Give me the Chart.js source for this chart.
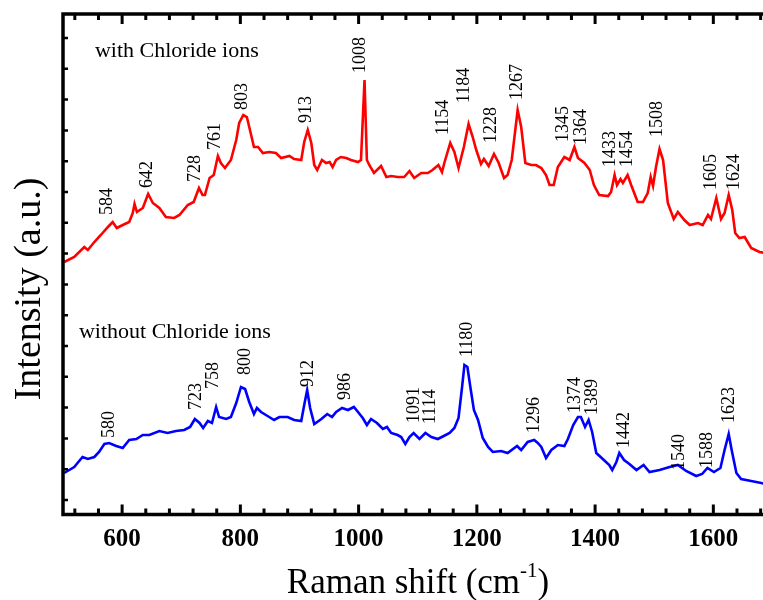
<!DOCTYPE html>
<html lang="en">
<head>
    <meta charset="UTF-8">
    <title>Raman spectra</title>
    <script src="https://cdn.jsdelivr.net/npm/chart.js"></script>
    <style>
        html, body { margin: 0; padding: 0; background: #fff; overflow: hidden; }
    </style>
</head>
<body>
    <canvas id="ramanChart" width="763" height="600"></canvas>
    <script>
    // spectrum with chloride ions (red)
    const redShift = [
        502, 519, 536, 542, 553, 564, 576, 584, 591, 601,
        612, 618, 621, 625, 635, 644, 652, 663, 674, 688,
        697, 711, 721, 730, 736, 740, 748, 755, 762, 767,
        774, 784, 793, 798, 805, 811, 817, 823, 830, 838,
        849, 860, 869, 883, 891, 903, 908, 914, 920, 925,
        930, 938, 945, 951, 956, 962, 970, 979, 987, 999,
        1004, 1010, 1014, 1018, 1026, 1038, 1047, 1055, 1066, 1077,
        1086, 1094, 1106, 1117, 1125, 1135, 1141, 1145, 1155, 1162,
        1169, 1178, 1186, 1193, 1199, 1207, 1212, 1220, 1229, 1237,
        1246, 1252, 1259, 1269, 1275, 1282, 1292, 1300, 1309, 1317,
        1323, 1330, 1337, 1348, 1357, 1365, 1371, 1382, 1391, 1398,
        1407, 1422, 1427, 1433, 1437, 1443, 1447, 1455, 1461, 1472,
        1481, 1489, 1494, 1498, 1503, 1509, 1515, 1523, 1533, 1540,
        1551, 1560, 1574, 1582, 1591, 1596, 1605, 1613, 1619, 1626,
        1632, 1637, 1644, 1653, 1664, 1678, 1687
    ];
    const redIntensity = [
        238, 243, 253, 250, 258, 265, 273, 278, 272, 275,
        278, 287, 296, 288, 292, 306, 297, 292, 283, 282,
        285, 295, 298, 312, 305, 305, 322, 325, 344, 337,
        332, 340, 360, 377, 385, 383, 368, 353, 353, 347,
        348, 347, 342, 344, 341, 340, 358, 370, 357, 335,
        330, 340, 337, 338, 333, 340, 343, 342, 340, 338,
        340, 420, 340, 335, 327, 334, 323, 324, 323, 323,
        329, 322, 327, 327, 330, 335, 328, 337, 357, 348,
        332, 353, 376, 363, 350, 336, 341, 334, 346, 337,
        322, 325, 340, 390, 373, 337, 335, 335, 332, 325,
        315, 315, 333, 343, 340, 353, 342, 337, 330, 315,
        305, 304, 308, 325, 315, 321, 317, 325, 315, 298,
        298, 307, 323, 314, 333, 351, 340, 297, 281, 288,
        280, 275, 277, 275, 285, 281, 302, 281, 287, 305,
        290, 267, 262, 263, 252, 248, 247
    ];

    // spectrum without chloride ions (blue)
    const blueShift = [
        502, 519, 533, 542, 553, 561, 570, 578, 590, 601,
        612, 624, 635, 646, 663, 677, 691, 705, 715, 723,
        731, 737, 745, 752, 759, 764, 776, 784, 793, 801,
        808, 815, 823, 828, 835, 846, 857, 866, 880, 891,
        903, 908, 913, 918, 925, 937, 947, 955, 962, 972,
        982, 992, 999, 1007, 1014, 1021, 1031, 1041, 1048, 1055,
        1066, 1072, 1079, 1086, 1093, 1103, 1113, 1123, 1134, 1144,
        1154, 1162, 1169, 1175, 1179, 1184, 1189, 1195, 1202, 1210,
        1219, 1227, 1241, 1252, 1268, 1275, 1286, 1297, 1303, 1309,
        1317, 1326, 1337, 1348, 1354, 1363, 1371, 1376, 1383, 1389,
        1395, 1402, 1413, 1424, 1429, 1436, 1441, 1449, 1458, 1470,
        1482, 1492, 1509, 1526, 1540, 1554, 1571, 1581, 1590, 1601,
        1612, 1619, 1626, 1631, 1639, 1647, 1664, 1681, 1687
    ];
    const blueIntensity = [
        27, 33, 43, 41, 43, 48, 56, 57, 54, 52,
        60, 61, 65, 65, 69, 67, 69, 70, 73, 81,
        77, 72, 79, 77, 93, 83, 81, 83, 97, 113,
        111, 98, 86, 92, 88, 84, 80, 83, 83, 80,
        79, 95, 110, 92, 76, 81, 86, 83, 88, 92,
        90, 93, 88, 82, 75, 81, 77, 71, 73, 67,
        65, 63, 56, 63, 67, 61, 67, 63, 61, 64,
        67, 72, 82, 113, 135, 133, 113, 90, 80, 62,
        53, 48, 49, 47, 54, 50, 58, 60, 57, 53,
        42, 50, 55, 54, 61, 75, 83, 83, 73, 80,
        68, 47, 41, 35, 30, 38, 47, 40, 36, 30,
        35, 28, 30, 33, 35, 29, 24, 26, 32, 28,
        32, 50, 66, 50, 27, 21, 19, 17, 16
    ];

    // peak labels: text, anchor shift, anchor intensity (bottom of the rotated text)
    const redPeakText = ['584', '642', '728', '761', '803', '913', '1008', '1154', '1184',
        '1228', '1267', '1345', '1364', '1433', '1454', '1508', '1605', '1624'];
    const redPeakX = [574, 640, 722, 756, 801, 909, 1001, 1142, 1177,
        1223, 1266, 1345, 1375, 1424, 1453, 1503, 1594, 1633];
    const redPeakY = [285, 312, 318, 350, 390, 377, 427, 365, 397,
        357, 400, 358, 355, 333, 333, 363, 310, 310];

    const bluePeakText = ['580', '723', '758', '800', '912', '986', '1091', '1114',
        '1180', '1296', '1374', '1389', '1442', '1540', '1588', '1623'];
    const bluePeakX = [577, 723, 753, 806, 914, 976, 1092, 1120,
        1182, 1295, 1364, 1393, 1447, 1540, 1588, 1625];
    const bluePeakY = [62, 90, 111, 125, 113, 100, 77, 76,
        143, 67, 87, 85, 52, 30, 32, 77];

    const seriesNames = ['with Chloride ions', 'without Chloride ions'];
    const seriesNameX = [554, 527];
    const seriesNameY = [443, 162];

    const xTicks = [600, 800, 1000, 1200, 1400, 1600];
    const xMinorStep = 40;
    const yStep = 30.8;

    const serif = "'Liberation Serif', 'Times New Roman', serif";

    const framePlugin = {
        id: 'frame',
        afterDraw(chart) {
            const { ctx, chartArea: a, scales: { x, y } } = chart;
            ctx.save();
            ctx.strokeStyle = '#000';
            ctx.lineWidth = 3.5;
            ctx.beginPath();
            ctx.moveTo(a.right + 2, a.top);
            ctx.lineTo(a.left, a.top);
            ctx.lineTo(a.left, a.bottom);
            ctx.lineTo(a.right + 2, a.bottom);
            ctx.stroke();

            // x ticks, inward on bottom and top
            ctx.lineWidth = 3;
            ctx.beginPath();
            for (let v = 520; v <= x.max; v += xMinorStep) {
                const px = x.getPixelForValue(v);
                const len = xTicks.includes(v) ? 10 : 6;
                ctx.moveTo(px, a.bottom);
                ctx.lineTo(px, a.bottom - len);
                ctx.moveTo(px, a.top);
                ctx.lineTo(px, a.top + len);
            }
            ctx.stroke();

            // y ticks, inward on the left
            ctx.lineWidth = 2.5;
            ctx.beginPath();
            for (let v = 0; v <= y.max; v += yStep) {
                const py = y.getPixelForValue(v);
                ctx.moveTo(a.left, py);
                ctx.lineTo(a.left + 5, py);
            }
            ctx.stroke();

            // x title with superscript
            const big = '35px ' + serif;
            const small = '21px ' + serif;
            ctx.fillStyle = '#000';
            ctx.textBaseline = 'alphabetic';
            ctx.textAlign = 'left';
            ctx.font = big;
            const p1 = 'Raman shift (cm', p3 = ')';
            const w1 = ctx.measureText(p1).width, w3 = ctx.measureText(p3).width;
            ctx.font = small;
            const w2 = ctx.measureText('-1').width;
            let tx = (a.left + a.right) / 2 + 5 - (w1 + w2 + w3) / 2;
            const ty = 593;
            ctx.font = big;
            ctx.fillText(p1, tx, ty);
            ctx.font = small;
            ctx.fillText('-1', tx + w1, ty - 16);
            ctx.font = big;
            ctx.fillText(p3, tx + w1 + w2, ty);

            // y title
            ctx.save();
            ctx.translate(40, 289);
            ctx.rotate(-Math.PI / 2);
            ctx.textAlign = 'center';
            ctx.font = '38px ' + serif;
            ctx.fillText('Intensity (a.u.)', 0, 0);
            ctx.restore();
            ctx.restore();
        },
        afterDatasetsDraw(chart) {
            const { ctx, scales: { x, y } } = chart;
            ctx.save();
            ctx.fillStyle = '#000';
            ctx.font = '18px ' + serif;
            ctx.textAlign = 'left';
            ctx.textBaseline = 'middle';
            const drawPeaks = (texts, xs, ys) => {
                texts.forEach((t, i) => {
                    ctx.save();
                    ctx.translate(x.getPixelForValue(xs[i]), y.getPixelForValue(ys[i]));
                    ctx.rotate(-Math.PI / 2);
                    ctx.fillText(t, 0, 1);
                    ctx.restore();
                });
            };
            drawPeaks(redPeakText, redPeakX, redPeakY);
            drawPeaks(bluePeakText, bluePeakX, bluePeakY);

            ctx.font = '22px ' + serif;
            ctx.textBaseline = 'alphabetic';
            seriesNames.forEach((s, i) => {
                ctx.fillText(s, x.getPixelForValue(seriesNameX[i]), y.getPixelForValue(seriesNameY[i]));
            });
            ctx.restore();
        }
    };

    const toPoints = (xs, ys) => xs.map((v, i) => ({ x: v, y: ys[i] }));

    new Chart(document.getElementById('ramanChart').getContext('2d'), {
        type: 'line',
        data: {
            datasets: [{
                label: seriesNames[0],
                data: toPoints(redShift, redIntensity),
                borderColor: '#ff0000',
                borderWidth: 2.6,
                pointRadius: 0,
                tension: 0
            }, {
                label: seriesNames[1],
                data: toPoints(blueShift, blueIntensity),
                borderColor: '#0000ff',
                borderWidth: 2.6,
                pointRadius: 0,
                tension: 0
            }]
        },
        options: {
            responsive: false,
            animation: false,
            layout: { padding: { top: 14, left: 0, right: 0, bottom: 0 } },
            plugins: { legend: { display: false }, tooltip: { enabled: false } },
            scales: {
                x: {
                    type: 'linear',
                    min: 500,
                    max: 1684,
                    grid: { display: false, drawTicks: false },
                    border: { display: false },
                    afterBuildTicks: (s) => { s.ticks = xTicks.map(v => ({ value: v })); },
                    afterFit: (s) => { s.height = 85.5; },
                    ticks: {
                        color: '#000',
                        padding: 10,
                        maxRotation: 0,
                        font: { family: serif, size: 25, weight: 'bold' },
                        callback: (v) => String(v)
                    }
                },
                y: {
                    type: 'linear',
                    min: -14.5,
                    max: 486,
                    grid: { display: false, drawTicks: false },
                    border: { display: false },
                    ticks: { display: false },
                    afterFit: (s) => { s.width = 63; }
                }
            }
        },
        plugins: [framePlugin]
    });
    </script>
</body>
</html>
